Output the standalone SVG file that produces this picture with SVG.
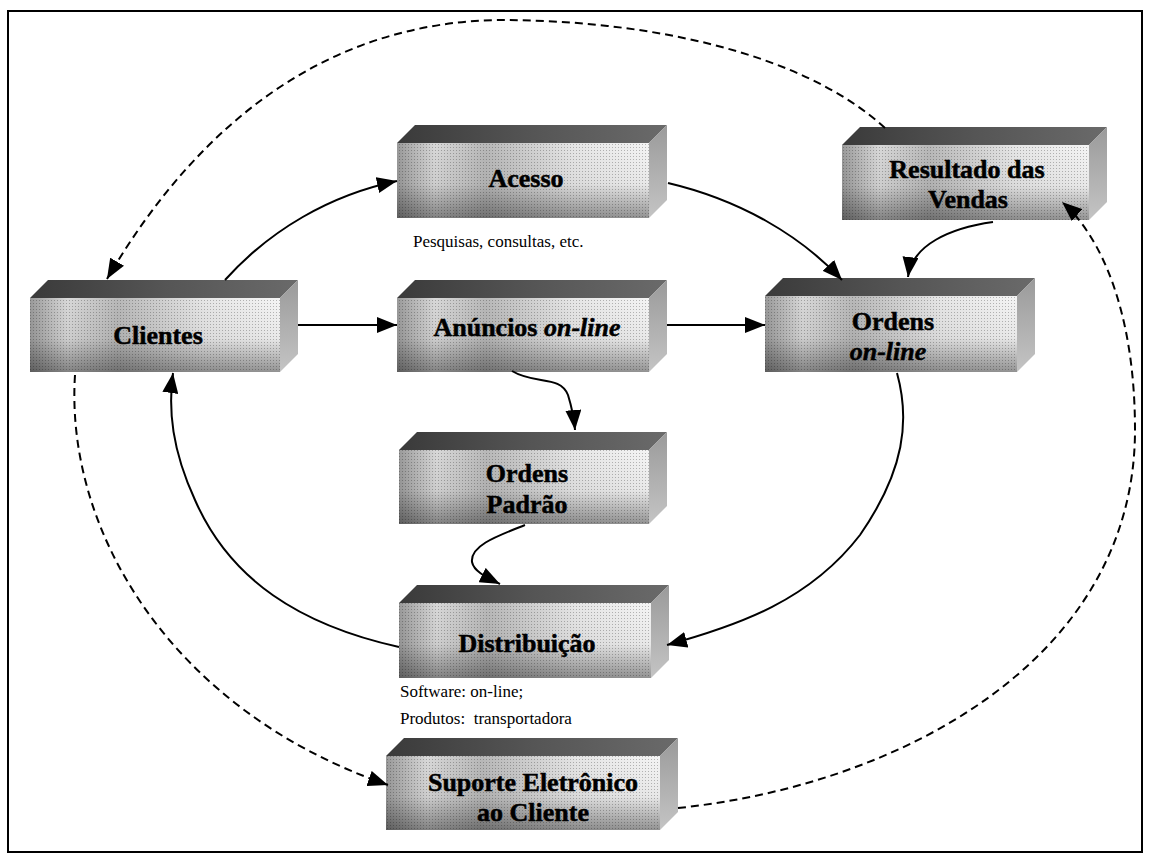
<svg xmlns="http://www.w3.org/2000/svg" width="1150" height="855" viewBox="0 0 1150 855">
<style>
.lbl{font-family:"Liberation Serif","Times New Roman",serif;font-weight:bold;font-size:26px;fill:#000;stroke:#000;stroke-width:0.5;text-anchor:middle}
.it{font-style:italic}
.sub{font-family:"Liberation Serif","Times New Roman",serif;font-size:17px;fill:#000}
.con{fill:none;stroke:#000;stroke-width:2}
.dash{stroke-dasharray:8 5}
.top{fill:url(#gTop)}
.front{fill:url(#gFront)}
.shade{fill:url(#gShade)}
.side{fill:url(#gSide)}
.dots{fill:url(#pDots)}
</style>
<defs>
<linearGradient id="gTop" x1="0" y1="0" x2="1" y2="0">
<stop offset="0" stop-color="#3a3a3a"/><stop offset="0.5" stop-color="#555"/><stop offset="1" stop-color="#6a6a6a"/>
</linearGradient>
<linearGradient id="gFront" x1="0" y1="0" x2="1" y2="0">
<stop offset="0" stop-color="#9a9a9a"/><stop offset="0.15" stop-color="#d8d8d8"/><stop offset="0.35" stop-color="#b8b8b8"/><stop offset="0.7" stop-color="#e6e6e6"/><stop offset="1" stop-color="#f4f4f4"/>
</linearGradient>
<linearGradient id="gShade" x1="0" y1="0" x2="0" y2="1">
<stop offset="0" stop-color="#000" stop-opacity="0"/><stop offset="0.55" stop-color="#000" stop-opacity="0.05"/><stop offset="1" stop-color="#000" stop-opacity="0.4"/>
</linearGradient>
<linearGradient id="gSide" x1="0" y1="0" x2="0" y2="1">
<stop offset="0" stop-color="#9a9a9a"/><stop offset="1" stop-color="#c4c4c4"/>
</linearGradient>
<pattern id="pDots" width="3" height="3" patternUnits="userSpaceOnUse">
<rect x="0" y="0" width="1" height="1" fill="#000" fill-opacity="0.25"/>
</pattern>
<marker id="ah" viewBox="0 0 20 16" refX="20" refY="8" markerWidth="20" markerHeight="16" markerUnits="userSpaceOnUse" orient="auto">
<path d="M0,0 L20,8 L0,16 Z" fill="#000"/>
</marker>
</defs>
<rect x="8" y="11" width="1134" height="841" fill="#fff" stroke="#000" stroke-width="2"/>

<g id="n-acesso">
<polygon class="top" points="397,143 415,125 667,125 649,143"/>
<rect class="front" x="397" y="143" width="252" height="75"/>
<rect class="shade" x="397" y="143" width="252" height="75"/>
<polygon class="side" points="649,143 667,125 667,200 649,218"/>
<rect class="dots" x="397" y="143" width="252" height="75"/>
<text class="lbl" x="526" y="187">Acesso</text>
<text class="sub" x="413" y="247">Pesquisas, consultas, etc.</text>
</g>

<g id="n-resultado">
<polygon class="top" points="842,145 860,127 1107,127 1089,145"/>
<rect class="front" x="842" y="145" width="247" height="75"/>
<rect class="shade" x="842" y="145" width="247" height="75"/>
<polygon class="side" points="1089,145 1107,127 1107,202 1089,220"/>
<rect class="dots" x="842" y="145" width="247" height="75"/>
<text class="lbl" x="967" y="178">Resultado das</text>
<text class="lbl" x="968" y="208">Vendas</text>
</g>

<g id="n-clientes">
<polygon class="top" points="30,298 48,280 298,280 280,298"/>
<rect class="front" x="30" y="298" width="250" height="74"/>
<rect class="shade" x="30" y="298" width="250" height="74"/>
<polygon class="side" points="280,298 298,280 298,354 280,372"/>
<rect class="dots" x="30" y="298" width="250" height="74"/>
<text class="lbl" x="158" y="344">Clientes</text>
</g>

<g id="n-anuncios">
<polygon class="top" points="397,298 415,280 667,280 649,298"/>
<rect class="front" x="397" y="298" width="252" height="74"/>
<rect class="shade" x="397" y="298" width="252" height="74"/>
<polygon class="side" points="649,298 667,280 667,354 649,372"/>
<rect class="dots" x="397" y="298" width="252" height="74"/>
<text class="lbl" x="527" y="336">Anúncios <tspan class="it">on-line</tspan></text>
</g>

<g id="n-ordens-online">
<polygon class="top" points="765,296 783,278 1035,278 1017,296"/>
<rect class="front" x="765" y="296" width="252" height="76"/>
<rect class="shade" x="765" y="296" width="252" height="76"/>
<polygon class="side" points="1017,296 1035,278 1035,354 1017,372"/>
<rect class="dots" x="765" y="296" width="252" height="76"/>
<text class="lbl" x="893" y="330">Ordens</text>
<text class="lbl it" x="888" y="360">on-line</text>
</g>

<g id="n-ordens-padrao">
<polygon class="top" points="399,450 417,432 667,432 649,450"/>
<rect class="front" x="399" y="450" width="250" height="74"/>
<rect class="shade" x="399" y="450" width="250" height="74"/>
<polygon class="side" points="649,450 667,432 667,506 649,524"/>
<rect class="dots" x="399" y="450" width="250" height="74"/>
<text class="lbl" x="527" y="482">Ordens</text>
<text class="lbl" x="527" y="513">Padrão</text>
</g>

<g id="n-distribuicao">
<polygon class="top" points="399,603 417,585 669,585 651,603"/>
<rect class="front" x="399" y="603" width="252" height="75"/>
<rect class="shade" x="399" y="603" width="252" height="75"/>
<polygon class="side" points="651,603 669,585 669,660 651,678"/>
<rect class="dots" x="399" y="603" width="252" height="75"/>
<text class="lbl" x="527" y="652">Distribuição</text>
<text class="sub" x="400" y="697">Software: on-line;</text>
<text class="sub" x="400" y="724" xml:space="preserve">Produtos:  transportadora</text>
</g>

<g id="n-suporte">
<polygon class="top" points="386,756 404,738 678,738 660,756"/>
<rect class="front" x="386" y="756" width="274" height="74"/>
<rect class="shade" x="386" y="756" width="274" height="74"/>
<polygon class="side" points="660,756 678,738 678,812 660,830"/>
<rect class="dots" x="386" y="756" width="274" height="74"/>
<text class="lbl" x="533" y="791">Suporte Eletrônico</text>
<text class="lbl" x="533" y="821">ao Cliente</text>
</g>

<g id="connectors">
<path class="con dash" marker-end="url(#ah)" d="M885,128 C800,50 640,20 500,20 C330,22 200,120 107,279"/>
<path class="con dash" marker-end="url(#ah)" d="M75,375 C65,530 170,710 388,785"/>
<path class="con dash" marker-end="url(#ah)" d="M678,808 C900,785 1135,660 1135,430 C1135,310 1100,235 1062,202"/>
<path class="con" marker-end="url(#ah)" d="M225,280 C270,230 330,195 397,181"/>
<path class="con" marker-end="url(#ah)" d="M668,183 C740,200 800,235 842,280"/>
<path class="con" marker-end="url(#ah)" d="M993,222 C950,228 912,245 908,277"/>
<path class="con" marker-end="url(#ah)" d="M298,325 L397,325"/>
<path class="con" marker-end="url(#ah)" d="M667,325 L765,325"/>
<path class="con" marker-end="url(#ah)" d="M512,371 C535,385 560,375 568,395 C572,408 574,418 575,430"/>
<path class="con" marker-end="url(#ah)" d="M525,525 C500,535 470,545 472,562 C474,572 488,578 500,584"/>
<path class="con" marker-end="url(#ah)" d="M897,373 C910,420 905,470 860,535 C810,600 740,625 667,645"/>
<path class="con" marker-end="url(#ah)" d="M399,647 C300,625 230,580 195,500 C172,450 168,410 173,373"/>
</g>
</svg>
